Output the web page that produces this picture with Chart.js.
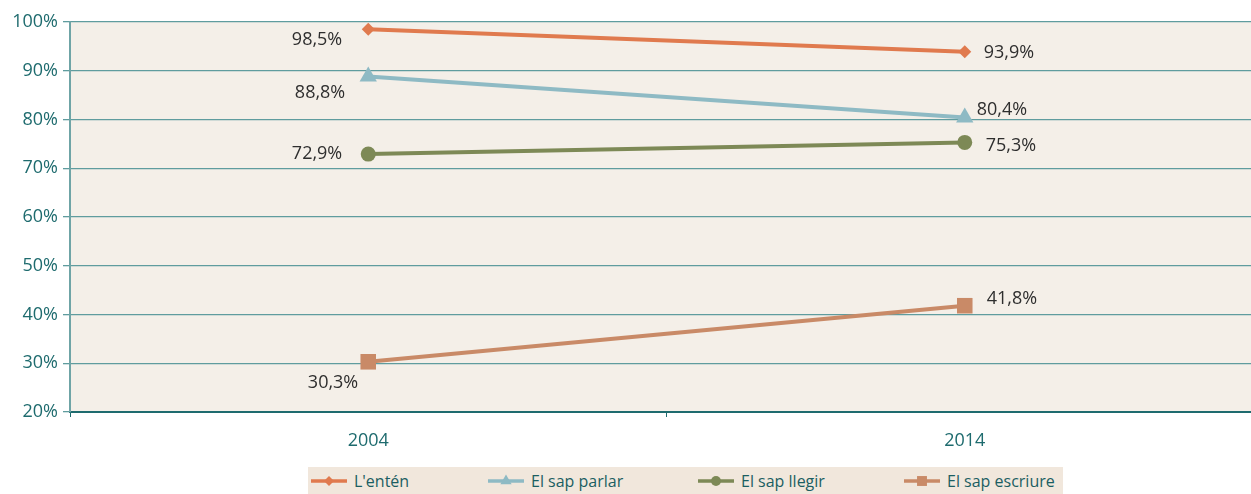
<!DOCTYPE html>
<html><head><meta charset="utf-8">
<script src="https://cdn.jsdelivr.net/npm/chart.js@4/dist/chart.umd.min.js"></script>
<style>
html,body{margin:0;padding:0;background:#fff;overflow:hidden;width:1251px;height:494px;}
#wrap{position:relative;width:1274px;height:494px;}
#c{display:block;width:1274px;height:494px;}
#legend{position:absolute;left:308px;top:467px;width:755px;height:27px;background:#F1E7DC;font-family:"Open Sans",sans-serif;font-size:16px;color:#1B5E62;}
.li{position:absolute;top:0;height:27px;display:flex;align-items:center;}
.li canvas{margin-right:7px;}
</style></head><body>
<div id="wrap"><canvas id="c" width="1274" height="494"></canvas><div id="legend"></div></div>
<script>
const categories = ["2004", "2014"];
const seriesNames = ["L'entén", "El sap parlar", "El sap llegir", "El sap escriure"];
const entenValues = [98.5, 93.9];
const parlarValues = [88.8, 80.4];
const llegirValues = [72.9, 75.3];
const escriureValues = [30.3, 41.8];
const yTicks = [20, 30, 40, 50, 60, 70, 80, 90, 100];

const colors = ["#E07A4E", "#8EBAC4", "#7D8956", "#C98A67"];
const pointStyles = ["rectRot", "triangle", "circle", "rect"];
const pointRadii = [6.5, 10, 7.5, 11];
// label placement: [dx, dy, align] per point
const labelPlacement = [
  [[-26, 11, "right"], [19, 1, "left"]],
  [[-23, 16, "right"], [12, -8, "left"]],
  [[-26, 0, "right"], [21, 3, "left"]],
  [[-10, 21, "right"], [22, -7, "left"]]
];
const allValues = [entenValues, parlarValues, llegirValues, escriureValues];
const fmt = v => v.toFixed(1).replace('.', ',') + '%';

const bgPlugin = {
  id: 'bg',
  beforeDraw(chart) {
    const {ctx, chartArea: a} = chart;
    ctx.save(); ctx.fillStyle = '#F4EFE8';
    ctx.fillRect(a.left, a.top, a.right - a.left, a.bottom - a.top);
    ctx.restore();
  }
};
const labelPlugin = {
  id: 'lbl',
  afterDatasetsDraw(chart) {
    const ctx = chart.ctx;
    ctx.save();
    ctx.font = '18px "Open Sans", sans-serif';
    ctx.fillStyle = '#2E2E2E';
    ctx.textBaseline = 'middle';
    chart.data.datasets.forEach((ds, i) => {
      chart.getDatasetMeta(i).data.forEach((pt, j) => {
        const [dx, dy, al] = labelPlacement[i][j];
        ctx.textAlign = al;
        ctx.fillText(fmt(ds.data[j]), pt.x + dx, pt.y + dy);
      });
    });
    ctx.restore();
  }
};

const chart = new Chart(document.getElementById('c'), {
  type: 'line',
  data: {
    labels: categories,
    datasets: seriesNames.map((n, i) => ({
      label: n, data: allValues[i], borderColor: colors[i], backgroundColor: colors[i],
      borderWidth: 4, pointStyle: pointStyles[i], pointRadius: pointRadii[i],
      pointBorderWidth: 0, tension: 0
    }))
  },
  options: {
    responsive: false, animation: false, devicePixelRatio: 1,
    layout: {padding: {top: 22, bottom: 34, left: 0, right: 0}},
    plugins: {legend: {display: false}, tooltip: {enabled: false}},
    scales: {
      x: {
        offset: true,
        grid: {offset: true, drawOnChartArea: false, color: '#1E6B6E', tickLength: 5},
        border: {color: '#1E6B6E', width: 2},
        ticks: {color: '#1E6B6E', font: {family: 'Open Sans', size: 18}, padding: 13},
        afterFit(s) { s.height = 48; }
      },
      y: {
        min: 20, max: 100,
        afterBuildTicks(s) { s.ticks = yTicks.map(v => ({value: v})); },
        grid: {color: '#5F9C9E', tickLength: 7, lineWidth: 1.3},
        border: {color: '#6FA4A6', width: 2},
        ticks: {color: '#1E6B6E', font: {family: 'Open Sans', size: 18}, padding: 5, callback: v => v + '%'},
        afterFit(s) { s.width = 70; }
      }
    }
  },
  plugins: [bgPlugin, labelPlugin]
});

// HTML legend built from the chart's datasets
const legendPos = [3, 180, 390, 596];
const leg = document.getElementById('legend');
chart.data.datasets.forEach((ds, i) => {
  const item = document.createElement('div');
  item.className = 'li'; item.style.left = legendPos[i] + 'px';
  const cv = document.createElement('canvas'); cv.width = 36; cv.height = 14;
  const g = cv.getContext('2d');
  g.strokeStyle = ds.borderColor; g.fillStyle = ds.borderColor; g.lineWidth = 3.5;
  g.beginPath(); g.moveTo(0, 7); g.lineTo(36, 7); g.stroke();
  const r = {rectRot: 5, triangle: 6.5, circle: 5, rect: 7}[ds.pointStyle];
  Chart.helpers.drawPoint(g, {pointStyle: ds.pointStyle, radius: r, borderWidth: 0}, 18, 7);
  item.appendChild(cv);
  const t = document.createElement('span'); t.textContent = ds.label;
  item.appendChild(t);
  leg.appendChild(item);
});
</script>
</body></html>
